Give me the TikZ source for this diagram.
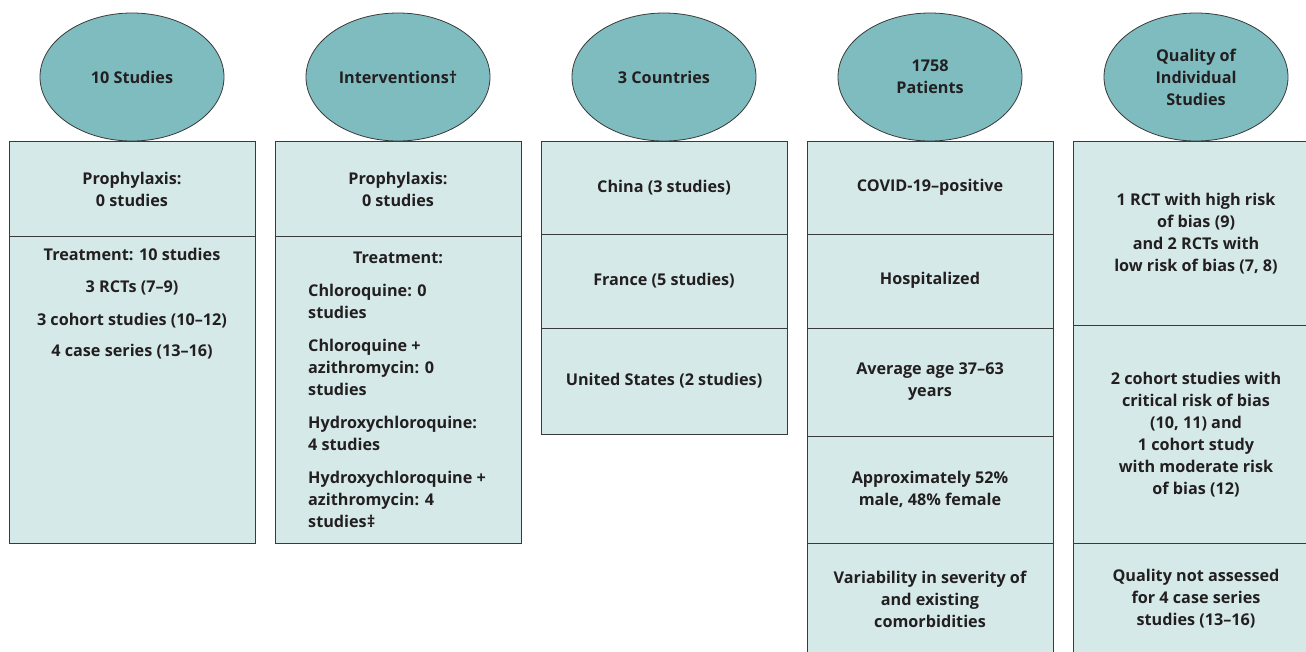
\documentclass[tikz,border=0pt]{standalone}
\usepackage{fontspec}
\setmainfont{Open Sans}
\usetikzlibrary{shapes.geometric}
\definecolor{ellfill}{HTML}{7FBCBF}
\definecolor{cellfill}{HTML}{D5E9E9}
\definecolor{edge}{HTML}{3A3A3A}
\definecolor{ink}{HTML}{231F20}
\newcommand\txtfont{\fontsize{16.2}{22}\selectfont\bfseries}
\tikzset{
 cell/.style={draw=edge, fill=cellfill, line width=1pt, rectangle, inner sep=0pt, minimum width=246pt},
 head/.style={ellipse, draw=edge, fill=ellfill, line width=0.8pt, minimum width=184pt, minimum height=128pt, inner sep=0pt, align=center, font=\txtfont, text=ink},
 lbl/.style={align=center, font=\txtfont, text=ink, inner sep=0pt},
 lbll/.style={align=left, font=\txtfont, text=ink, inner sep=0pt},
}
\begin{document}
\begin{tikzpicture}[x=1pt,y=-1pt]
\useasboundingbox (0,0) rectangle (1306,651);
\clip (0,0) rectangle (1306,651);
\fill[white] (0,0) rectangle (1306,651);
% column 1
\node[cell, minimum height=95pt] (c1a) at (132,188.5) {};
\node[cell, minimum height=307pt] (c1b) at (132,389.5) {};
% column 2
\node[cell, minimum height=95pt] (c2a) at (398,188.5) {};
\node[cell, minimum height=307pt] (c2b) at (398,389.5) {};
% column 3
\node[cell, minimum height=93pt] (c3a) at (664,187.5) {};
\node[cell, minimum height=94pt] (c3b) at (664,281) {};
\node[cell, minimum height=106pt] (c3c) at (664,381) {};
% column 4
\node[cell, minimum height=93pt] (c4a) at (930,187.5) {};
\node[cell, minimum height=94pt] (c4b) at (930,281) {};
\node[cell, minimum height=108pt] (c4c) at (930,382) {};
\node[cell, minimum height=107pt] (c4d) at (930,489.5) {};
\node[cell, minimum height=117pt] (c4e) at (930,601.5) {};
% column 5
\node[cell, minimum height=184pt] (c5a) at (1196,233) {};
\node[cell, minimum height=218pt] (c5b) at (1196,434) {};
\node[cell, minimum height=117pt] (c5c) at (1196,601.5) {};
% headers
\node[head] (e1) at (132,77) {10 Studies};
\node[head] (e2) at (398,77) {Interventions\textdagger};
\node[head] (e3) at (664,77) {3 Countries};
\node[head] (e4) at (930,77) {1758\\Patients};
\node[head] (e5) at (1196,77) {Quality of\\Individual\\Studies};
% texts column 1
\node[lbl] (t1a) at (132,189) {Prophylaxis:\\0 studies};
\node[lbl] (t1b) at (132,303.5) {Treatment: 10 studies\\[10.5pt]3 RCTs (7--9)\\[10.5pt]3 cohort studies (10--12)\\[9pt]4 case series (13--16)};
% texts column 2
\node[lbl] (t2a) at (398,189) {Prophylaxis:\\0 studies};
\node[lbl] (t2b) at (398,258) {Treatment:};
\node[lbll, anchor=west] (t2c) at (308,406) {Chloroquine: 0\\studies\\[10.5pt]Chloroquine +\\azithromycin: 0\\studies\\[11pt]Hydroxychloroquine:\\4 studies\\[11pt]Hydroxychloroquine +\\azithromycin: 4\\studies\textdaggerdbl};
% texts column 3
\node[lbl] (t3a) at (664,187.5) {China (3 studies)};
\node[lbl] (t3b) at (664,280.5) {France (5 studies)};
\node[lbl] (t3c) at (664,380.5) {United States (2 studies)};
% texts column 4
\node[lbl] (t4a) at (930,187.5) {COVID-19--positive};
\node[lbl] (t4b) at (930,280.5) {Hospitalized};
\node[lbl] (t4c) at (930,382) {Average age 37--63\\years};
\node[lbl] (t4d) at (930,489) {Approximately 52\%\\male, 48\% female};
\node[lbl] (t4e) at (930,599) {Variability in severity of\\and existing\\comorbidities};
% texts column 5
\node[lbl] (t5a) at (1196,234) {1 RCT with high risk\\of bias (9)\\and 2 RCTs with\\low risk of bias (7, 8)};
\node[lbl] (t5b) at (1196,435) {2 cohort studies with\\critical risk of bias\\(10, 11) and\\1 cohort study\\with moderate risk\\of bias (12)};
\node[lbl] (t5c) at (1196,599) {Quality not assessed\\for 4 case series\\studies (13--16)};
\end{tikzpicture}
\end{document}
